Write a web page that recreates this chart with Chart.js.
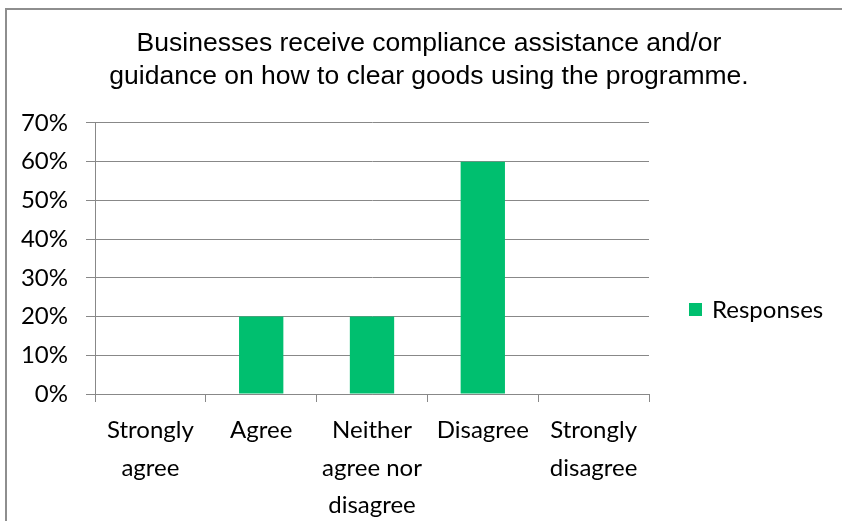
<!DOCTYPE html>
<html>
<head>
<meta charset="utf-8">
<script src="https://cdn.jsdelivr.net/npm/chart.js@4"></script>
<style>
  html, body { margin: 0; padding: 0; background: #fff; }
  #frame {
    position: absolute; left: 5px; top: 8px; width: 850px; height: 520px;
    border-left: 2px solid #8e8e8e; border-top: 2px solid #8e8e8e;
  }
  #wrap { position: absolute; left: 0; top: 0; width: 842px; height: 521px; }
</style>
</head>
<body>
<div id="frame"></div>
<div id="wrap"><canvas id="myChart"></canvas></div>
<script>
// Survey answers and share of responses (%)
const categories = [
  ['Strongly', 'agree'],
  ['Agree'],
  ['Neither', 'agree nor', 'disagree'],
  ['Disagree'],
  ['Strongly', 'disagree']
];
const responses = [0, 20, 20, 60, 0];
const yTicks = [0, 10, 20, 30, 40, 50, 60, 70];

const titleLines = [
  'Businesses receive compliance assistance and/or',
  'guidance on how to clear goods using the programme.'
];

const gridColor = '#888888';
const labelFont = { family: 'Lato', size: 24 };

// legend drawn beside the plot, centred in the space under the title text
const sideLegend = {
  id: 'sideLegend',
  afterDraw(chart) {
    const c = chart.ctx;
    const area = chart.chartArea;
    const top = (chart.titleBlock ? chart.titleBlock.bottom : area.top) - 24;
    const cy = (top + chart.height) / 2;
    const x = area.right + 40;
    c.save();
    chart.data.datasets.forEach((ds, i) => {
      const y = cy + i * 30;
      c.fillStyle = ds.backgroundColor;
      c.fillRect(x, y - 7, 13, 13);
      c.fillStyle = '#000';
      c.font = '24px Lato';
      c.textBaseline = 'middle';
      c.textAlign = 'left';
      c.fillText(ds.label, x + 23, y);
    });
    c.restore();
  }
};

window.onload = function () {
  const ctx = document.getElementById('myChart');
  new Chart(ctx, {
    type: 'bar',
    data: {
      labels: categories,
      datasets: [{
        label: 'Responses',
        data: responses,
        backgroundColor: '#00bf6f',
        categoryPercentage: 1,
        barPercentage: 0.4
      }]
    },
    options: {
      responsive: true,
      maintainAspectRatio: false,
      animation: false,
      layout: { padding: { left: 16, right: 0, top: 0, bottom: 0 } },
      scales: {
        x: {
          grid: {
            offset: true,
            drawOnChartArea: false,
            drawTicks: true,
            tickLength: 8,
            color: gridColor
          },
          border: { color: gridColor },
          ticks: {
            font: { family: 'Lato', size: 24, lineHeight: 1.56 },
            color: '#000',
            padding: 10,
            maxRotation: 0,
            autoSkip: false
          },
          afterFit: function (scale) { scale.height = 127; }
        },
        y: {
          min: 0,
          max: 70,
          afterBuildTicks: function (scale) {
            scale.ticks = yTicks.map(v => ({ value: v }));
          },
          grid: { color: gridColor, tickLength: 9 },
          border: { color: gridColor },
          ticks: {
            font: labelFont,
            color: '#000',
            padding: 18,
            callback: v => v + '%'
          },
          afterFit: function (scale) { scale.width = 79; }
        },
        // empty axis that keeps room on the right for the legend
        side: {
          type: 'linear',
          position: 'right',
          grid: { display: false },
          border: { display: false },
          ticks: { display: false },
          afterFit: function (scale) { scale.width = 193; }
        }
      },
      plugins: {
        title: {
          display: true,
          text: titleLines,
          color: '#000',
          font: { family: 'Liberation Sans', size: 26.5, weight: 'normal', lineHeight: 1.245 },
          padding: { top: 27, bottom: 30 }
        },
        legend: { display: false },
        tooltip: { enabled: false }
      }
    },
    plugins: [sideLegend]
  });
}
</script>
</body>
</html>
